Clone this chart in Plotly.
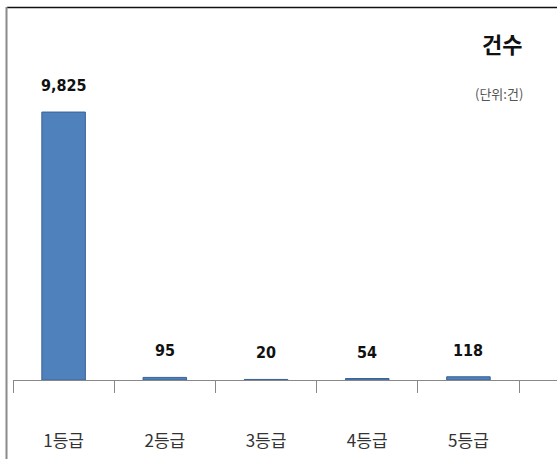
import plotly.graph_objects as go

# Number of cases by grade
grades = ["1등급", "2등급", "3등급", "4등급", "5등급"]
counts = [9825, 95, 20, 54, 118]
count_labels = ["9,825", "95", "20", "54", "118"]

title_text = "건수"
unit_text = "(단위:건)"

fig = go.Figure()
fig.add_trace(go.Bar(
    x=grades,
    y=counts,
    width=0.43,
    marker=dict(color="#4F81BD", line=dict(color="#3A6295", width=1)),
    hoverinfo="x+y",
))

# value labels above each bar
for g, v, t in zip(grades, counts, count_labels):
    fig.add_annotation(
        x=g, y=v, text=f"<b>{t}</b>", showarrow=False,
        yanchor="bottom", yshift=15,
        font=dict(family="DejaVu Sans Condensed, Noto Sans CJK KR", size=16, color="#111111"),
    )

fig.add_annotation(
    x=502, y=43, xref="paper", yref="paper", text=f"<b>{title_text}</b>",
    xanchor="center", yanchor="middle",
    showarrow=False, font=dict(family="Noto Sans CJK KR", size=22, color="#111111"),
)
fig.add_annotation(
    x=499, y=93, xref="paper", yref="paper", text=unit_text,
    xanchor="center", yanchor="middle",
    showarrow=False, font=dict(family="Noto Sans CJK KR", size=13, color="#555555"),
)

# frame: black top edge, grey left edge
fig.add_shape(type="line", xref="paper", yref="paper", x0=7, x1=600, y0=7.5, y1=7.5,
              line=dict(color="#111111", width=1.5), layer="above")
fig.add_shape(type="line", xref="paper", yref="paper", x0=6.5, x1=6.5, y0=7, y1=470,
              line=dict(color="#8A8A8A", width=2), layer="above")

W, H = 557, 459
ml, mr, mt, mb = 13, 0, 80, 79

fig.update_layout(
    width=W, height=H,
    margin=dict(l=ml, r=mr, t=mt, b=mb),
    paper_bgcolor="white", plot_bgcolor="white",
    showlegend=False,
    bargap=0.57,
    xaxis=dict(
        type="category", range=[-0.5, 4.875],
        tickson="boundaries", ticks="outside", ticklen=12, tickcolor="#888888",
        showline=True, linecolor="#888888", linewidth=1,
        showgrid=False, zeroline=False,
        ticklabelstandoff=46,
        tickfont=dict(family="Noto Sans CJK KR", size=17, color="#333333"),
    ),
    yaxis=dict(range=[0, 11000], visible=False),
)

# convert pixel positions of paper-referenced items to paper fractions
pw, ph = W - ml - mr, H - mt - mb
for a in fig.layout.annotations:
    if a.xref == "paper":
        a.x = (a.x - ml) / pw
        a.y = 1 - (a.y - mt) / ph
for s in fig.layout.shapes:
    s.x0 = (s.x0 - ml) / pw
    s.x1 = (s.x1 - ml) / pw
    s.y0 = 1 - (s.y0 - mt) / ph
    s.y1 = 1 - (s.y1 - mt) / ph

fig.write_html("out.html")
